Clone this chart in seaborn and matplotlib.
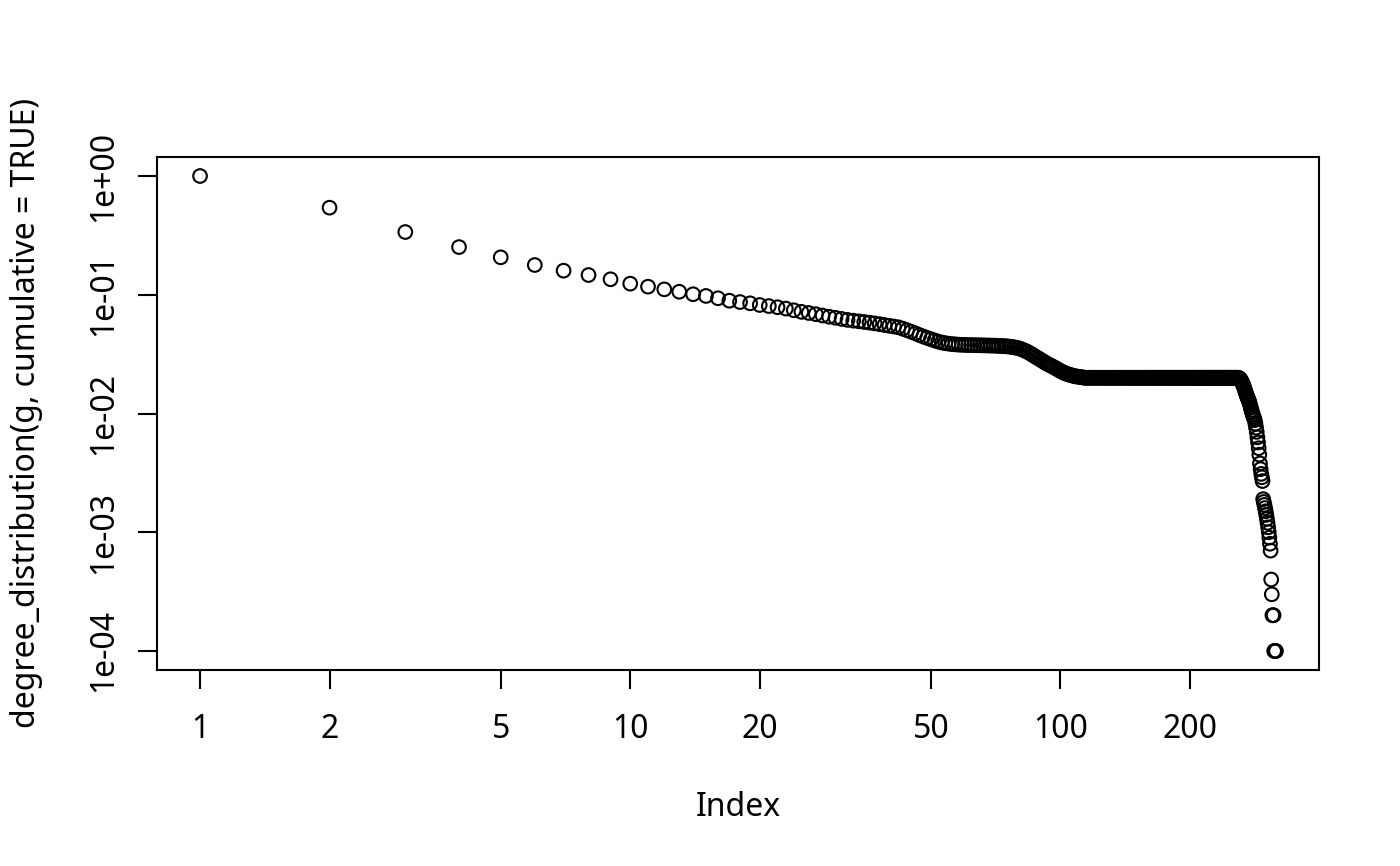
import numpy as np
import pandas as pd
import matplotlib
matplotlib.use("Agg")
import matplotlib.pyplot as plt
import seaborn as sns
from matplotlib.ticker import FixedLocator, FixedFormatter, NullLocator

# ---- data (cumulative degree distribution) ----
head_vals = [1.0, 0.541, 0.3375, 0.252, 0.2066, 0.178, 0.1595, 0.1466, 0.135, 0.124,
             0.117, 0.111, 0.106, 0.101, 0.0977, 0.0934, 0.0891, 0.0868, 0.0847, 0.082]

mid_vals = [0.0803, 0.0785, 0.0765, 0.0740, 0.0718, 0.0702, 0.0686, 0.0668, 0.0653, 0.0640,
            0.0626, 0.0614, 0.0605, 0.0597, 0.0590, 0.0582, 0.0574, 0.0565, 0.0556, 0.0548,
            0.0540, 0.0532, 0.0518, 0.0503, 0.0488, 0.0473, 0.0458, 0.0445, 0.0433, 0.0422,
            0.0412, 0.0403, 0.0396, 0.0391, 0.0387, 0.0384, 0.0382, 0.0380, 0.0379, 0.0378,
            0.0377, 0.0377, 0.0376, 0.0376, 0.0375, 0.0375, 0.0374, 0.0374, 0.0373, 0.0373,
            0.0372, 0.0371, 0.0370, 0.0369, 0.0368, 0.0366, 0.0364, 0.0361, 0.0358, 0.0354,
            0.0349, 0.0343, 0.0336, 0.0329, 0.0321, 0.0313, 0.0305, 0.0297, 0.0290, 0.0283,
            0.0276, 0.0269, 0.0263, 0.0258, 0.0253, 0.0248, 0.0243, 0.0238, 0.0233, 0.0228,
            0.0224, 0.0220, 0.0217, 0.0214, 0.0212, 0.0210, 0.0208, 0.0206, 0.0205, 0.0204,
            0.0203, 0.0202, 0.0201]

plateau_vals = [
    0.02, 0.02, 0.02, 0.02, 0.02, 0.02, 0.02, 0.02, 0.02, 0.02, 0.02, 0.02, 0.02, 0.02, 0.02, 0.02, 0.02, 0.02,
    0.02, 0.02, 0.02, 0.02, 0.02, 0.02, 0.02, 0.02, 0.02, 0.02, 0.02, 0.02, 0.02, 0.02, 0.02, 0.02, 0.02, 0.02,
    0.02, 0.02, 0.02, 0.02, 0.02, 0.02, 0.02, 0.02, 0.02, 0.02, 0.02, 0.02, 0.02, 0.02, 0.02, 0.02, 0.02, 0.02,
    0.02, 0.02, 0.02, 0.02, 0.02, 0.02, 0.02, 0.02, 0.02, 0.02, 0.02, 0.02, 0.02, 0.02, 0.02, 0.02, 0.02, 0.02,
    0.02, 0.02, 0.02, 0.02, 0.02, 0.02, 0.02, 0.02, 0.02, 0.02, 0.02, 0.02, 0.02, 0.02, 0.02, 0.02, 0.02, 0.02,
    0.02, 0.02, 0.02, 0.02, 0.02, 0.02, 0.02, 0.02, 0.02, 0.02, 0.02, 0.02, 0.02, 0.02, 0.02, 0.02, 0.02, 0.02,
    0.02, 0.02, 0.02, 0.02, 0.02, 0.02, 0.02, 0.02, 0.02, 0.02, 0.02, 0.02, 0.02, 0.02, 0.02, 0.02, 0.02, 0.02,
    0.02, 0.02, 0.02, 0.02, 0.02, 0.02, 0.02, 0.02, 0.02, 0.02, 0.02, 0.02, 0.02, 0.02, 0.02, 0.02, 0.02, 0.02,
    0.02, 0.02]

tail_vals = [0.0199, 0.0197, 0.0194, 0.0190, 0.0185, 0.0180, 0.0174, 0.0168, 0.0161, 0.0154,
             0.0148, 0.0142, 0.0137, 0.0133, 0.0129, 0.0124, 0.0118, 0.0112, 0.0107, 0.0102,
             0.0098, 0.0094, 0.0091, 0.0088, 0.0082, 0.0076, 0.0070, 0.0063, 0.0057, 0.0051,
             0.0045, 0.0038, 0.0034, 0.0031, 0.0029, 0.0027,
             0.0019, 0.0018, 0.0017, 0.0016, 0.0015, 0.0014, 0.0013, 0.0012, 0.0011, 0.0010,
             0.0009, 0.0008, 0.0007, 0.0004, 0.0003, 0.0002, 0.0002, 0.0002, 0.0001, 0.0001,
             0.0001, 0.0001]

x_tick_values = [1, 2, 5, 10, 20, 50, 100, 200]
x_tick_labels = ["1", "2", "5", "10", "20", "50", "100", "200"]
y_tick_values = [1e-4, 1e-3, 1e-2, 1e-1, 1e0]
y_tick_labels = ["1e-04", "1e-03", "1e-02", "1e-01", "1e+00"]
x_label = "Index"
y_label = "degree_distribution(g, cumulative = TRUE)"

values = head_vals + mid_vals + plateau_vals + tail_vals
df = pd.DataFrame({"Index": np.arange(1, len(values) + 1), "value": values})

# ---- style ----
sns.set_style("white")
plt.rcParams["font.family"] = ["Noto Sans", "DejaVu Sans"]
plt.rcParams["font.size"] = 11.5

W, H = 1400, 866
fig = plt.figure(figsize=(7, 4.33), dpi=200)
ax = fig.add_axes([157 / W, 1 - 670 / H, (1319 - 157) / W, (670 - 157) / H])

sns.scatterplot(data=df, x="Index", y="value", ax=ax, marker="o", s=24,
                facecolors="none", edgecolor="black", linewidth=0.75, legend=False)
for coll in ax.collections:
    coll.set_facecolor("none")
    coll.set_edgecolor("black")
    coll.set_linewidth(0.75)

ax.set_xscale("log")
ax.set_yscale("log")
n = len(values)
lx = np.log10(n)
ax.set_xlim(10 ** (-0.04 * lx), 10 ** (1.04 * lx))
ly_min, ly_max = np.log10(min(values)), np.log10(max(values))
r = ly_max - ly_min
ax.set_ylim(10 ** (ly_min - 0.04 * r), 10 ** (ly_max + 0.04 * r))

ax.xaxis.set_major_locator(FixedLocator(x_tick_values))
ax.xaxis.set_major_formatter(FixedFormatter(x_tick_labels))
ax.xaxis.set_minor_locator(NullLocator())
ax.yaxis.set_major_locator(FixedLocator(y_tick_values))
ax.yaxis.set_major_formatter(FixedFormatter(y_tick_labels))
ax.yaxis.set_minor_locator(NullLocator())

ax.tick_params(axis="both", which="major", direction="out", length=7, width=0.75,
               color="black", labelcolor="black", labelsize=11.5)
ax.tick_params(axis="x", pad=8.6, bottom=True)
ax.tick_params(axis="y", pad=6.3, left=True)
for lab in ax.get_yticklabels():
    lab.set_rotation(90)
    lab.set_va("center")

for sp in ax.spines.values():
    sp.set_visible(True)
    sp.set_color("black")
    sp.set_linewidth(0.75)

ax.set_xlabel(x_label, fontsize=11.5, labelpad=16, color="black")
ax.set_ylabel(y_label, fontsize=11.5, labelpad=16, color="black")
ax.grid(False)

fig.savefig("out.png", dpi=200, facecolor="white")
